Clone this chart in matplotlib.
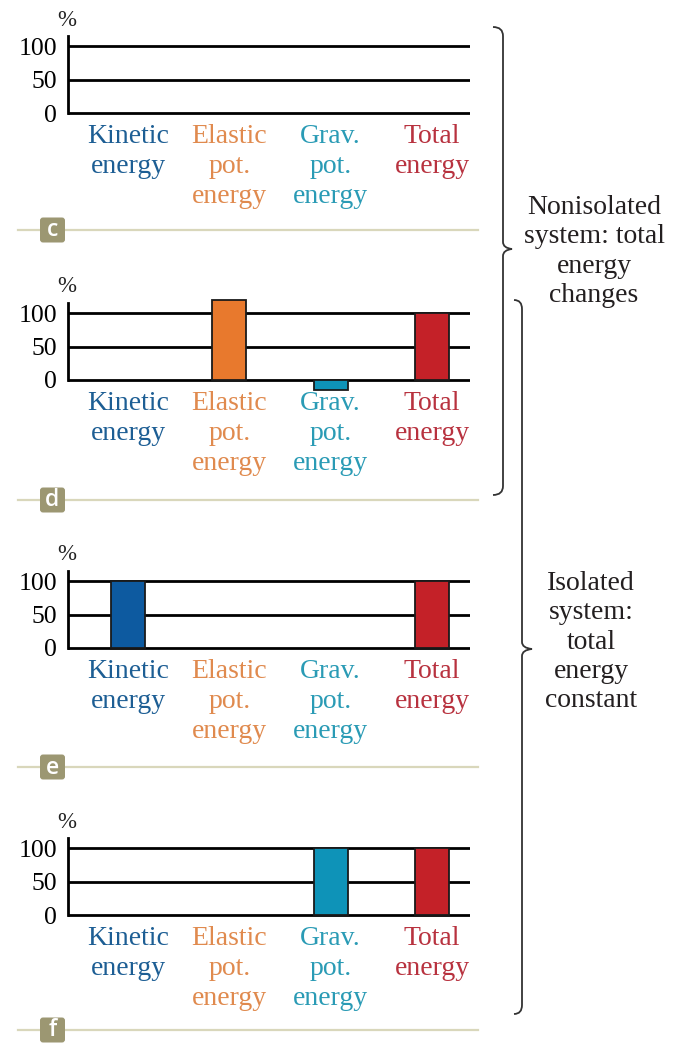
import matplotlib
matplotlib.use("Agg")
import matplotlib.pyplot as plt
from matplotlib.path import Path
from matplotlib.patches import PathPatch, FancyBboxPatch

# ---------------- data ----------------
categories = ["Kinetic\nenergy", "Elastic\npot.\nenergy", "Grav.\npot.\nenergy", "Total\nenergy"]
panel_names = ["c", "d", "e", "f"]
values_c = [0, 0, 0, 0]
values_d = [0, 120, -15, 100]
values_e = [100, 0, 0, 100]
values_f = [0, 0, 100, 100]
yticks = [0, 50, 100]
label_colors = ["#1d5e94", "#e08a4e", "#2a9bb5", "#b8323f"]
bar_colors = ["#0d5aa0", "#e8792d", "#0e93b8", "#c42128"]
brace_texts = ["Nonisolated\nsystem: total\nenergy\nchanges",
               "Isolated\nsystem:\ntotal\nenergy\nconstant"]

all_values = [values_c, values_d, values_e, values_f]

W, H = 675, 1043
fig = plt.figure(figsize=(W / 100, H / 100), dpi=100)
fig.patch.set_facecolor("white")
SERIF = ["Liberation Serif", "DejaVu Serif"]

# overlay axes in pixel coordinates for decorations
ov = fig.add_axes([0, 0, 1, 1], zorder=0)
ov.set_xlim(0, W)
ov.set_ylim(H, 0)
ov.axis("off")

zero_px = [113, 380, 648, 915]
label_line_px = [230, 500, 767, 1030]
px_per_unit = 0.667
ymin, ymax = -25, 125
ax_left, ax_right = 68, 470
x0_px, dx_px = 128, 101.33

for vals, y0, name, ly in zip(all_values, zero_px, panel_names, label_line_px):
    top = y0 - ymax * px_per_unit
    bot = y0 - ymin * px_per_unit
    ax = fig.add_axes([ax_left / W, 1 - bot / H, (ax_right - ax_left) / W, (bot - top) / H], zorder=2)
    ax.patch.set_alpha(0)
    ax.set_ylim(ymin, ymax)
    ax.set_xlim((ax_left - x0_px) / dx_px, 3 + (ax_right - (x0_px + 3 * dx_px)) / dx_px)
    for s in ["top", "right", "bottom"]:
        ax.spines[s].set_visible(False)
    ax.spines["left"].set_bounds(0, 116)
    ax.spines["left"].set_linewidth(2)
    for yv in yticks:
        ax.axhline(yv, color="black", lw=2, zorder=1)
    for i, v in enumerate(vals):
        if v != 0:
            ax.bar(i, v, width=0.336, color=bar_colors[i], edgecolor="#1a1a1a", lw=1.3, zorder=3)
    ax.set_xticks([])
    ax.set_yticks(yticks)
    ax.set_yticklabels([str(t) for t in yticks], family=SERIF, fontsize=18.5)
    ax.tick_params(axis="y", length=0, pad=8)
    ax.annotate("%", xy=(ax.get_xlim()[0], 0), xytext=(-1, 93), textcoords="offset pixels",
                ha="center", va="center", family=SERIF, fontsize=16.5, color="#222222")
    for i, (lab, col) in enumerate(zip(categories, label_colors)):
        for k, line in enumerate(lab.split("\n")):
            ax.annotate(line, xy=(i, 0), xytext=(0, -30 * (k + 1)), textcoords="offset pixels",
                        ha="center", va="baseline", family=SERIF, fontsize=20, color=col)
    # panel separator line and label
    ov.plot([18, 478], [ly, ly], color="#d9d7bb", lw=1.6, zorder=1)
    ov.add_patch(FancyBboxPatch((40, ly - 12.5), 25, 25, boxstyle="round,pad=0,rounding_size=3",
                                fc="#9c9772", ec="none", zorder=2))
    ov.text(52.5, ly + 0.5, name, ha="center", va="center", color="white", fontsize=16.5,
            family=["Open Sans", "DejaVu Sans"], fontweight="semibold", zorder=3)


def brace(xl, xm, xt, ytop, ybot, tip, r=9):
    verts = [(xl, ytop), (xm, ytop), (xm, ytop + r),
             (xm, tip - 7), (xm, tip - 1), (xt, tip),
             (xm, tip + 1), (xm, tip + 7),
             (xm, ybot - r), (xm, ybot), (xl, ybot)]
    codes = [Path.MOVETO, Path.CURVE3, Path.CURVE3,
             Path.LINETO, Path.CURVE3, Path.CURVE3,
             Path.CURVE3, Path.CURVE3,
             Path.LINETO, Path.CURVE3, Path.CURVE3]
    ov.add_patch(PathPatch(Path(verts, codes), fc="none", ec="#333333", lw=1.3, zorder=2))


brace(493, 503, 512, 27, 495, 249)
brace(514, 522, 532, 300, 1014, 649)

for txt, cx, base in zip(brace_texts, [594, 591], [214, 590]):
    for k, line in enumerate(txt.split("\n")):
        ov.text(cx, base + 29.3 * k, line, ha="center", va="baseline", family=SERIF,
                fontsize=20, color="#231f20")

fig.savefig("out.png", dpi=100, facecolor="white")
